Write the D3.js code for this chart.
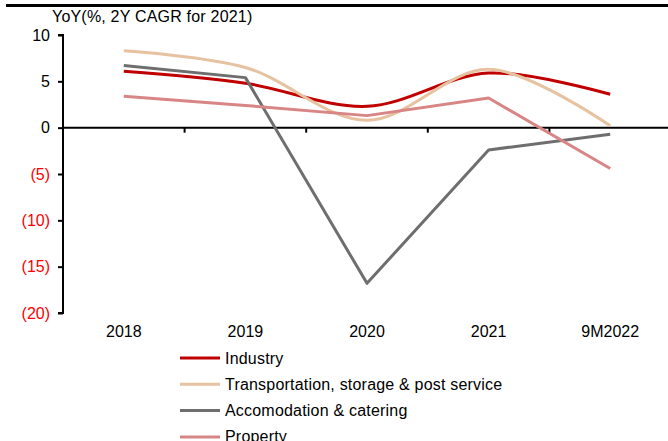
<!DOCTYPE html>
<html>
<head>
<meta charset="utf-8">
<script src="https://cdn.jsdelivr.net/npm/d3@7"></script>
<style>
  html, body { margin: 0; padding: 0; background: #fff; }
  svg { display: block; font-family: "Liberation Sans", Arial, sans-serif; }
</style>
</head>
<body>
<svg id="chart" width="668" height="441"></svg>
<script>
// Categories and series (YoY %, 2Y CAGR for 2021)
const categories = ["2018", "2019", "2020", "2021", "9M2022"];
const industry = [6.1, 4.8, 2.3, 5.9, 3.6];
const transport = [8.3, 6.5, 0.8, 6.3, 0.2];
const accommodation = [6.7, 5.4, -16.8, -2.4, -0.7];
const property = [3.4, 2.4, 1.3, 3.2, -4.4];
const yTicks = [10, 5, 0, -5, -10, -15, -20];
const seriesNames = ["Industry", "Transportation, storage & post service", "Accomodation & catering", "Property"];

const series = [
  { name: seriesNames[0], values: industry, color: "#C00000", smooth: true },
  { name: seriesNames[1], values: transport, color: "#E6C2A0", smooth: true },
  { name: seriesNames[2], values: accommodation, color: "#6E6E6E", smooth: false },
  { name: seriesNames[3], values: property, color: "#D88585", smooth: false }
];

const FS = 16;
const LS = "0.2px";
const svg = d3.select("#chart");
const plot = { left: 63, right: 671, top: 35, bottom: 313 };

const x = d3.scaleBand().domain(categories).range([plot.left, plot.right]);
const y = d3.scaleLinear().domain([-20, 10]).range([plot.bottom, plot.top]);

// thick rule across the top
svg.append("rect").attr("x", 6).attr("y", 4).attr("width", 662).attr("height", 3).attr("fill", "#000");

// title
svg.append("text").attr("x", 52).attr("y", 22).attr("font-size", FS).attr("letter-spacing", LS)
  .attr("fill", "#000")
  .text("YoY(%, 2Y CAGR for 2021)");

// y axis
const yAxis = svg.append("g").attr("transform", `translate(${plot.left},0)`)
  .call(d3.axisLeft(y).tickValues(yTicks).tickSize(5)
    .tickFormat(d => d < 0 ? `(${Math.abs(d)})` : `${d}`));
yAxis.select(".domain").attr("stroke", "#000").attr("stroke-width", 2).attr("d", `M-5,${plot.top}H0V${plot.bottom}H-5`);
yAxis.selectAll(".tick line").attr("stroke", "#000").attr("stroke-width", 2);
yAxis.selectAll(".tick text")
  .attr("x", -13)
  .attr("font-size", FS)
  .attr("font-family", "Liberation Sans, Arial, sans-serif")
  .attr("fill", d => d < 0 ? "#FF0000" : "#000");

// zero axis with category ticks between groups
const xAxis = svg.append("g").attr("transform", `translate(0,${y(0)})`)
  .call(d3.axisBottom(x).tickSize(0).tickFormat(""));
xAxis.select(".domain").attr("stroke", "#000").attr("stroke-width", 2).attr("d", `M${plot.left},0H668`);
const bounds = categories.slice(1).map(c => x(c));
xAxis.selectAll("line.sep").data(bounds).join("line").attr("class", "sep")
  .attr("x1", d => d).attr("x2", d => d).attr("y1", 0).attr("y2", 5)
  .attr("stroke", "#000").attr("stroke-width", 2);

// category labels below the plot
svg.append("g").selectAll("text").data(categories).join("text")
  .attr("x", d => x(d) + x.bandwidth() / 2)
  .attr("y", 337)
  .attr("text-anchor", "middle")
  .attr("font-size", FS)
  .attr("fill", "#000")
  .text(d => d);

// lines
const cx = (d, i) => x(categories[i]) + x.bandwidth() / 2;
series.forEach(s => {
  const line = d3.line().x(cx).y(d => y(d))
    .curve(s.smooth ? d3.curveCatmullRom.alpha(0.5) : d3.curveLinear);
  svg.append("path").datum(s.values)
    .attr("fill", "none")
    .attr("stroke", s.color)
    .attr("stroke-width", 3)
    .attr("stroke-linejoin", "round")
    .attr("d", line);
});

// legend
const legend = svg.append("g");
series.forEach((s, i) => {
  const ly = 358 + i * 26.3;
  legend.append("line").attr("x1", 180).attr("x2", 220).attr("y1", ly).attr("y2", ly)
    .attr("stroke", s.color).attr("stroke-width", 3);
  legend.append("text").attr("x", 225).attr("y", ly + 5.5).attr("font-size", FS).attr("letter-spacing", LS)
    .attr("fill", "#000")
    .text(s.name);
});
</script>
</body>
</html>
